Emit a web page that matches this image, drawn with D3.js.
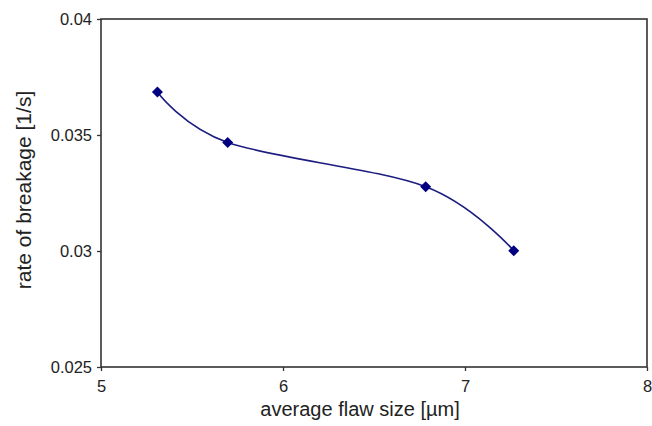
<!DOCTYPE html>
<html>
<head>
<meta charset="utf-8">
<script src="https://cdn.jsdelivr.net/npm/d3@7"></script>
<style>
  body { margin: 0; background: #fff; }
  text { font-family: "Liberation Sans", Arial, sans-serif; fill: #222; }
</style>
</head>
<body>
<div id="chart"></div>
<script>
// data
const flawSize = [5.31, 5.696, 6.784, 7.268];
const breakageRate = [0.03685, 0.03468, 0.03277, 0.03001];
const xTicks = [5, 6, 7, 8];
const yTicks = [0.025, 0.03, 0.035, 0.04];

const W = 652, H = 426;
const margin = { top: 19, right: 5, bottom: 59, left: 101 };
const width = W - margin.left - margin.right;
const height = H - margin.top - margin.bottom;

const svg = d3.select("#chart").append("svg")
  .attr("width", W).attr("height", H);
const g = svg.append("g")
  .attr("transform", `translate(${margin.left},${margin.top})`);

const x = d3.scaleLinear().domain([5, 8]).range([0, width]);
const y = d3.scaleLinear().domain([0.025, 0.04]).range([height, 0]);

// plot frame
g.append("rect")
  .attr("width", width).attr("height", height)
  .attr("fill", "none").attr("stroke", "#333").attr("stroke-width", 1.6);

// axes
const xAxis = g.append("g")
  .attr("transform", `translate(0,${height})`)
  .call(d3.axisBottom(x).tickValues(xTicks).tickFormat(d3.format("d")).tickSize(4).tickPadding(9));
const yAxis = g.append("g")
  .call(d3.axisLeft(y).tickValues(yTicks).tickFormat(d => String(+d.toFixed(3))).tickSize(4).tickPadding(5));
[xAxis, yAxis].forEach(a => {
  a.select(".domain").remove();
  a.selectAll("line").attr("stroke", "#333").attr("stroke-width", 1.3);
  a.selectAll("text").style("font-size", "16.5px")
    .style("font-family", "Liberation Sans, Arial, sans-serif").attr("fill", "#222");
});

// smoothed line
const pts = flawSize.map((v, i) => [v, breakageRate[i]]);
const line = d3.line()
  .x(d => x(d[0])).y(d => y(d[1]))
  .curve(d3.curveCardinal.tension(0));
g.append("path").datum(pts)
  .attr("fill", "none").attr("stroke", "#1c1c80").attr("stroke-width", 1.6)
  .attr("d", line);

// diamond markers
g.selectAll(".pt").data(pts).join("path")
  .attr("class", "pt")
  .attr("transform", d => `translate(${x(d[0])},${y(d[1])})`)
  .attr("d", "M0,-5.5L5.5,0L0,5.5L-5.5,0Z")
  .attr("fill", "#000080");

// axis titles
svg.append("text")
  .attr("x", 360).attr("y", 416)
  .attr("text-anchor", "middle").style("font-size", "20px")
  .text("average flaw size [µm]");
svg.append("text")
  .attr("transform", "translate(31,190) rotate(-90)")
  .attr("text-anchor", "middle").style("font-size", "21px")
  .text("rate of breakage [1/s]");
</script>
</body>
</html>
